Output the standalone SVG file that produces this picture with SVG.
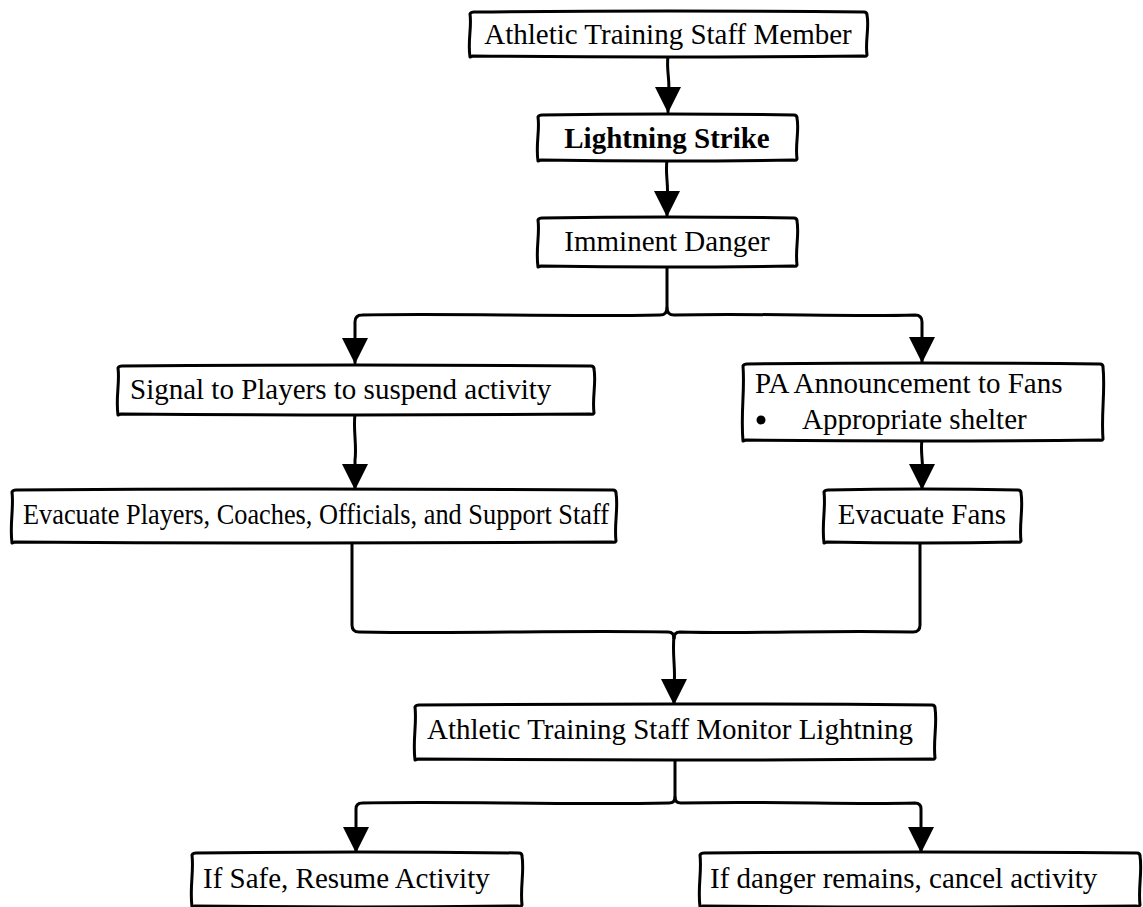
<svg xmlns="http://www.w3.org/2000/svg" width="1143" height="907" viewBox="0 0 1143 907">
<style>
.box{fill:#fff;stroke:#000;stroke-width:3;stroke-linejoin:round}
.t{font-family:"Liberation Serif","Times New Roman",serif;font-size:29px;fill:#000}
.b{font-weight:bold}
.c{fill:none;stroke:#000;stroke-width:3;stroke-linecap:round;stroke-linejoin:round}
</style>
<defs>
<marker id="ah" markerUnits="userSpaceOnUse" markerWidth="26" markerHeight="26" viewBox="0 0 26 26" refX="25" refY="13" orient="auto"><path d="M0,0 L26,13 L0,26 Z" fill="#000"/></marker>
</defs>
<rect width="1143" height="907" fill="#fff"/>
<g id="connectors">
<path class="c" d="M668,56 C666,72 671,82 668,96 L668,112" marker-end="url(#ah)"/>
<path class="c" d="M667,160 C665,175 669,185 667,200 L667,216" marker-end="url(#ah)"/>
<path class="c" d="M667,266 L667,308 Q667,315 660,315 C560,317 450,313 362,315 Q355,315 355,322 L355,363" marker-end="url(#ah)"/>
<path class="c" d="M667,308 Q667,315 674,315 C760,313 850,317 915,315 Q922,315 922,322 L922,362" marker-end="url(#ah)"/>
<path class="c" d="M355,414 C353,430 357,445 355,460 L355,489" marker-end="url(#ah)"/>
<path class="c" d="M922,440 C920,452 924,465 922,475 L922,489" marker-end="url(#ah)"/>
<path class="c" d="M352,542 L352,625 Q352,632 359,632 C480,634 560,630 668,632 Q674,632 674,638"/>
<path class="c" d="M920,542 L920,625 Q920,632 913,632 C820,630 760,634 680,632 Q674,632 674,638"/>
<path class="c" d="M674,636 C672,655 676,670 674,685 L674,704" marker-end="url(#ah)"/>
<path class="c" d="M675,759 L675,797 Q675,803 669,803 C560,805 450,801 362,803 Q356,803 356,809 L356,852" marker-end="url(#ah)"/>
<path class="c" d="M675,797 Q675,803 681,803 C780,801 850,805 915,803 Q921,803 921,809 L921,852" marker-end="url(#ah)"/>
</g>
<g id="n1">
<path class="box" d="M470,14 Q471,12 474,12 Q668,10 864,12 Q867,12 867,15 C869.5,27 865,41 867,55 Q866,57 863,56 Q668,58 473,56 L470,57 C467.5,41 472,27 470,14 Z"/>
<text class="t" x="668" y="44" text-anchor="middle">Athletic Training Staff Member</text>
</g>
<g id="n2">
<path class="box" d="M538,117 Q539,115 542,115 Q667,113 794,115 Q797,115 797,118 C799.5,131 795,144 797,159 Q796,161 793,160 Q667,162 541,160 L538,161 C535.5,144 540,131 538,117 Z"/>
<text class="t b" x="667" y="148" text-anchor="middle">Lightning Strike</text>
</g>
<g id="n3">
<path class="box" d="M538,220 Q539,218 542,218 Q667,216 794,218 Q797,218 797,221 C799.5,235 795,249 797,265 Q796,267 793,266 Q667,268 541,266 L538,267 C535.5,249 540,235 538,220 Z"/>
<text class="t" x="667" y="251" text-anchor="middle">Imminent Danger</text>
</g>
<g id="n4">
<path class="box" d="M118,368 Q119,366 122,366 Q356,364 591,366 Q594,366 594,369 C596.5,383 592,397 594,413 Q593,415 590,414 Q356,416 121,414 L118,415 C115.5,397 120,383 118,368 Z"/>
<text class="t" x="130" y="399">Signal to Players to suspend activity</text>
</g>
<g id="n5">
<path class="box" d="M743,366 Q744,364 747,364 Q923,362 1100,364 Q1103,364 1103,367 C1105.5,391 1101,413 1103,439 Q1102,441 1099,440 Q923,442 746,440 L743,441 C740.5,413 745,391 743,366 Z"/>
<text class="t" x="755" y="393">PA Announcement to Fans</text>
<circle cx="761" cy="420" r="4.5" fill="#000"/>
<text class="t" x="802" y="429">Appropriate shelter</text>
</g>
<g id="n6">
<path class="box" d="M12,492 Q13,490 16,490 Q314,488 613,490 Q616,490 616,493 C618.5,508 614,524 616,541 Q615,543 612,542 Q314,544 15,542 L12,543 C9.5,524 14,508 12,492 Z"/>
<text class="t" x="23" y="524" textLength="586" lengthAdjust="spacingAndGlyphs">Evacuate Players, Coaches, Officials, and Support Staff</text>
</g>
<g id="n7">
<path class="box" d="M824,492 Q825,490 828,490 Q922,488 1018,490 Q1021,490 1021,493 C1023.5,508 1019,524 1021,541 Q1020,543 1017,542 Q922,544 827,542 L824,543 C821.5,524 826,508 824,492 Z"/>
<text class="t" x="922" y="524" text-anchor="middle">Evacuate Fans</text>
</g>
<g id="n8">
<path class="box" d="M415,707 Q416,705 419,705 Q675,703 932,705 Q935,705 935,708 C937.5,724 933,740 935,758 Q934,760 931,759 Q675,761 418,759 L415,760 C412.5,740 417,724 415,707 Z"/>
<text class="t" x="427" y="739">Athletic Training Staff Monitor Lightning</text>
</g>
<g id="n9">
<path class="box" d="M192,855 Q193,853 196,853 Q357,851 519,853 Q522,853 522,856 C524.5,872 520,887 522,905 Q521,907 518,906 Q357,908 195,906 L192,907 C189.5,887 194,872 192,855 Z"/>
<text class="t" x="203" y="888">If Safe, Resume Activity</text>
</g>
<g id="n10">
<path class="box" d="M700,855 Q701,853 704,853 Q920,851 1137,853 Q1140,853 1140,856 C1142.5,872 1138,887 1140,905 Q1139,907 1136,906 Q920,908 703,906 L700,907 C697.5,887 702,872 700,855 Z"/>
<text class="t" x="710" y="888">If danger remains, cancel activity</text>
</g>
</svg>
